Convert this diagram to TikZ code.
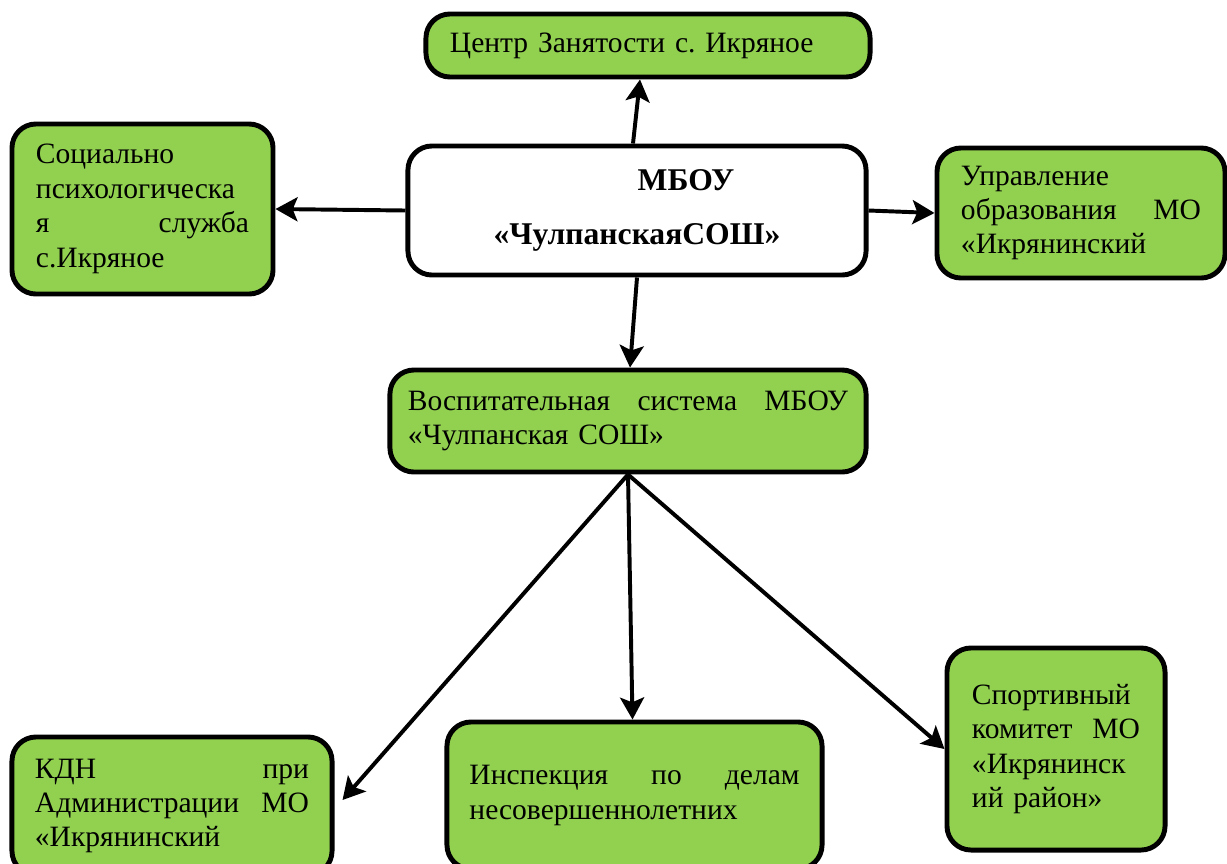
\documentclass[tikz,border=0pt]{standalone}
\usepackage{fontspec}
\setmainfont{Liberation Serif}
\usetikzlibrary{calc,arrows.meta}
\definecolor{vert}{HTML}{92D050}
\frenchspacing
\begin{document}
\begin{tikzpicture}[x=0.025cm,y=-0.025cm,
bloc/.style={draw,line width=3.5pt,rounded corners=0.6cm,fill=vert,align=left,inner xsep=0pt,font=\fontsize{21}{24.5}\selectfont},
fleche/.style={>={Stealth[length=0.55cm,width=0.6cm,inset=0.12cm]},->,line width=2.8pt}]
\useasboundingbox (0,0) rectangle (1227,863);
\clip (0,0) rectangle (1227,863);
\node[bloc,minimum width=11.1cm,minimum height=1.575cm,text width=9.9cm] (centre) at (648,45.5) {Центр Занятости с. Икряное};
\node[bloc,minimum width=6.525cm,minimum height=4.25cm,text width=5.325cm] (soc) at (142.5,209) {Социально\\ психологическа\\ я\hfill служба\\ с.Икряное};
\node[bloc,fill=white,align=center,minimum width=11.45cm,minimum height=3.225cm,font=\fontsize{22.5}{25}\selectfont\bfseries] (mbou) at (637,210.5) {\hspace*{2.45cm}МБОУ\\[0.45cm]«ЧулпанскаяСОШ»};
\node[bloc,minimum width=7.2cm,minimum height=3.25cm,text width=6.0cm] (upr) at (1081,213) {Управление\\ образования\hfill МО\\ «Икрянинский};
\node[bloc,minimum width=11.9cm,minimum height=2.55cm,text width=11cm] (vosp) at (628,421) {Воспитательная\hfill система\hfill МБОУ\\ «Чулпанская СОШ»};
\node[bloc,minimum width=8cm,minimum height=3.45cm,text width=6.85cm] (kdn) at (172,806) {КДН\hfill при\\ Администрации\hfill МО\\ «Икрянинский};
\node[bloc,minimum width=9.375cm,minimum height=3.675cm,text width=8.25cm] (insp) at (634.5,795.5) {Инспекция\hfill по\hfill делам\\ несовершеннолетних};
\node[bloc,minimum width=5.45cm,minimum height=5.05cm,text width=4.2cm] (sport) at (1056,749) {Спортивный\\ комитет\hfill МО\\ «Икрянинск\\ ий район»};
\draw[fleche] ($(mbou.north)+(-4,0)$) -- ($(centre.south)+(-8,0)$);
\draw[fleche] (mbou.west) -- (soc.east);
\draw[fleche] (mbou.east) -- (upr.west);
\draw[fleche] (mbou.south) -- ($(vosp.north)+(2,0)$);
\draw[fleche] (vosp.south) -- ($(kdn.east)+(8,-6)$);
\draw[fleche] (vosp.south) -- ($(insp.north)+(-2,0)$);
\draw[fleche] (vosp.south) -- (sport.west);
\end{tikzpicture}
\end{document}
